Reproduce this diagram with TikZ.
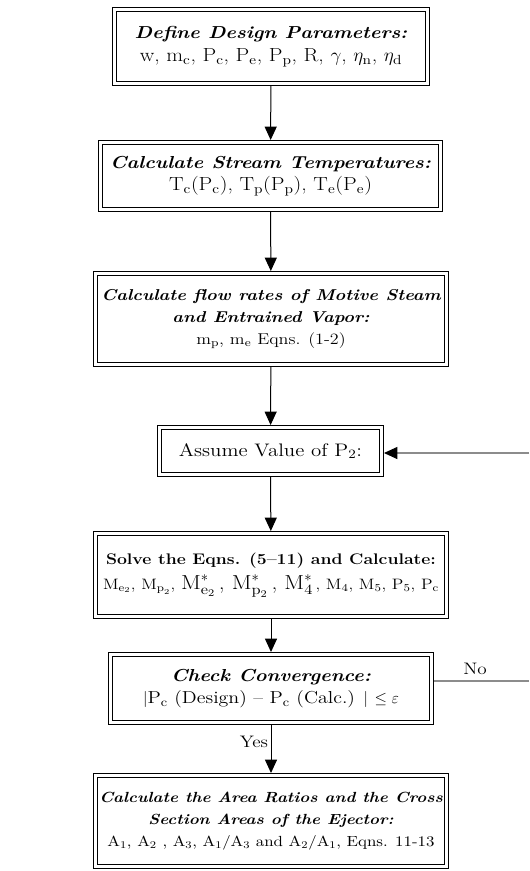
\documentclass[tikz,border=0pt]{standalone}
\usepackage{amsmath}
\usepackage{fontspec}
\setmainfont{Latin Modern Roman}[FakeStretch=1.15]
\usetikzlibrary{arrows.meta,calc}

% upright symbol with upright subscript, set from the text font
\newcommand{\vsub}[2]{$\text{#1}_{\text{#2}}$}
% bold italic step heading
\newcommand{\ttl}[1]{{\bfseries\itshape #1}}
% slightly larger roman line under a heading
\newcommand{\bigline}[1]{{\fontsize{14.2}{16.5}\selectfont #1}}

\tikzset{
  stepbox/.style={draw, double, double distance=2.2pt, line width=0.7pt,
    outer sep=1.8pt, inner sep=0pt, align=center,
    font=\fontsize{13}{17}\selectfont},
  link/.style={line width=0.75pt, -{Triangle[length=10pt,width=9pt]}},
  back/.style={line width=0.9pt, draw=black!45},
  lbl/.style={font=\fontsize{12.5}{14}\selectfont, inner sep=1pt}
}

\begin{document}
\begin{tikzpicture}[x=0.75pt,y=-0.75pt]
\useasboundingbox (0,0) rectangle (529,871);

\node[stepbox, minimum width=234.9pt, minimum height=55.65pt] (define) at (271,46.5)
  {\ttl{Define Design Parameters:}\\
   \bigline{w, \vsub{m}{c}, \vsub{P}{c}, \vsub{P}{e}, \vsub{P}{p}, R, $\gamma$, $\eta_{\text{n}}$, $\eta_{\text{d}}$}};

\node[stepbox, minimum width=255.15pt, minimum height=50.4pt] (temps) at (270.5,176)
  {\ttl{Calculate Stream Temperatures:}\\
   \bigline{\vsub{T}{c}(\vsub{P}{c}), \vsub{T}{p}(\vsub{P}{p}), \vsub{T}{e}(\vsub{P}{e})}};

\node[stepbox, font=\fontsize{11.8}{16.5}\selectfont,
      minimum width=263.4pt, minimum height=68.4pt] (flows) at (271,319)
  {\ttl{Calculate flow rates of Motive Steam}\\
   \ttl{and Entrained Vapor:}\\
   \vsub{m}{p}, \vsub{m}{e} Eqns. (1-2)};

\node[stepbox, font=\fontsize{13.6}{16.5}\selectfont,
      minimum width=166.65pt, minimum height=35.4pt] (assume) at (270.5,451)
  {Assume Value of \vsub{P}{2}:};

\node[stepbox, font=\fontsize{11.3}{19}\selectfont,
      minimum width=263.4pt, minimum height=62.4pt] (solve) at (271,575)
  {{\fontsize{11.5}{19}\selectfont\textbf{Solve the Eqns. (5--11) and Calculate:}}\\
   $\text{M}_{\text{e}_{\text{2}}}$, $\text{M}_{\text{p}_{\text{2}}}$,
   {\fontsize{15.2}{18}\selectfont $\text{M}^{*}_{\text{e}_{\text{2}}}$\,, $\text{M}^{*}_{\text{p}_{\text{2}}}$\,, $\text{M}^{*}_{\text{4}}$}\,,
   \vsub{M}{4}, \vsub{M}{5}, \vsub{P}{5}, \vsub{P}{c}};

\node[stepbox, minimum width=240.9pt, minimum height=51.15pt] (check) at (271,688.5)
  {\ttl{Check Convergence:}\\
   $|$\vsub{P}{c} (Design) -- \vsub{P}{c} (Calc.) $|$ $\leq\varepsilon$};

\node[stepbox, font=\fontsize{11}{16.5}\selectfont,
      minimum width=263.4pt, minimum height=68.4pt] (areas) at (271,821)
  {\ttl{Calculate the Area Ratios and the Cross}\\
   \ttl{Section Areas of the Ejector:}\\
   \vsub{A}{1}, \vsub{A}{2} , \vsub{A}{3}, \vsub{A}{1}/\vsub{A}{3} and \vsub{A}{2}/\vsub{A}{1}, Eqns. 11-13};

% main sequence
\draw[link] (define) -- (temps);
\draw[link] (temps) -- (flows);
\draw[link] (flows) -- (assume);
\draw[link] (assume) -- (solve);
\draw[link] (solve) -- (check);
\draw[link] (check) -- (areas);

% convergence branches
\coordinate (noEnd) at (529,681);
\coordinate (loopIn) at (529,453);
\draw[back] (check.east |- noEnd) -- (noEnd);
\draw[back] (loopIn) -- ($(assume.east |- loopIn)+(4,0)$);
\draw[line width=0.75pt, -{Triangle[length=10pt,width=9pt]}] ($(assume.east |- loopIn)+(5,0)$) -- (assume.east |- loopIn);

\node[lbl] (no) at (475,669) {No};
\node[lbl] (yes) at (254,742) {Yes};
\end{tikzpicture}
\end{document}
